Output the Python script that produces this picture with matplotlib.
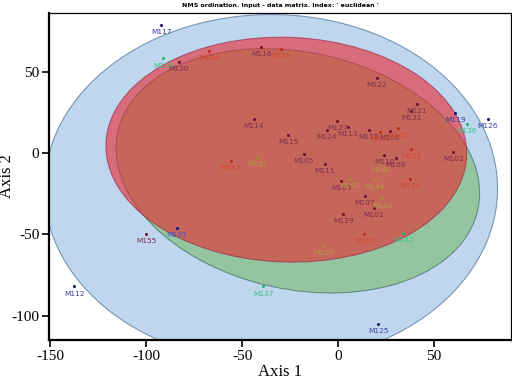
import matplotlib
matplotlib.use("Agg")
import matplotlib.pyplot as plt
from matplotlib.patches import Ellipse

plt.rcParams["axes.unicode_minus"] = False

# sample scores on the two NMS axes
names = ["M117", "M138", "M130", "M104", "M116", "M148", "M122", "M121", "M131",
         "M119", "M136", "M126", "M114", "M127", "M113", "M124", "M118", "M153",
         "M106", "M147", "M115", "M105", "M167", "M135", "M111", "M110", "M108",
         "M140", "M161", "M102", "M109", "M162", "M144", "M159", "M107", "M143",
         "M101", "M129", "M149", "M160", "M142", "M137", "M125", "M155", "M103",
         "M112"]
ax1 = [-92, -91, -83, -67, -40, -30, 20, 41, 38,
       61, 67, 78, -44, -0.5, 5, -6, 16, 22,
       27, 31, -26, -18, -56, -42, -7, 24, 30,
       22, 38, 60, 1.6, 5.7, 19, 37.5, 14, 23,
       18.6, 2.6, 13.5, -7.8, 34, -39, 21, -100, -84,
       -137.5]
ax2 = [78.5, 58, 56, 62.5, 65, 64, 46, 30, 26,
       24.5, 18, 21, 21, 19.6, 16, 14, 14, 13,
       13.5, 15, 11, -0.6, -5, -2.7, -6.7, -1, -3,
       -6, 2.5, 0.6, -17, -16, -16.6, -16, -26.4, -28,
       -34, -37.4, -49.7, -57, -49, -82, -105, -50, -46,
       -82]
group = ["navy", "green", "maroon", "red", "maroon", "red", "maroon", "maroon", "maroon",
         "navy", "green", "navy", "maroon", "maroon", "maroon", "maroon", "maroon", "red",
         "maroon", "red", "maroon", "maroon", "red", "olive", "maroon", "maroon", "maroon",
         "olive", "red", "maroon", "maroon", "olive", "olive", "red", "maroon", "olive",
         "maroon", "maroon", "red", "olive", "green", "green", "navy", "maroon", "navy",
         "navy"]

point_col = {"navy": "#14146e", "green": "#22b864", "maroon": "#6e1236",
             "red": "#c02a14", "olive": "#a8902a"}
label_col = {"navy": "#3c3ca0", "green": "#3cc47e", "maroon": "#7a2e4c",
             "red": "#d2482a", "olive": "#b49c44"}

fig = plt.figure(figsize=(5.12, 3.8), dpi=100)
ax = fig.add_axes([0.096, 0.105, 0.902, 0.861])

# group ellipses
blue = Ellipse((-35, -22), 236, 214, angle=0, facecolor="#bed6ee",
               edgecolor="#7894b4", linewidth=0.8, zorder=1)
green = Ellipse((-21, -11), 194, 144, angle=-19, facecolor="#6eb552",
                alpha=0.5, edgecolor="#1e4a3c", linewidth=0.8, zorder=2)
red = Ellipse((-27, 2), 188, 138, angle=-3, facecolor="#e8252d",
              alpha=0.6, edgecolor="#9a2040", linewidth=0.8, zorder=3)
ax.add_patch(blue)
ax.add_patch(green)
ax.add_patch(red)

for i in range(len(names)):
    g = group[i]
    ax.plot(ax1[i], ax2[i], "o", ms=2.2, color=point_col[g], mec="none", zorder=5)
    lc = label_col[g]
    if names[i] == "M103":
        lc = "#3456d4"
    ax.annotate(names[i], (ax1[i], ax2[i]), xytext=(0, -3), textcoords="offset points",
                ha="center", va="top", fontsize=5.3, color=lc, zorder=6)

ax.set_xlim(-150.5, 90)
ax.set_ylim(-115, 86)
ax.set_xticks([-150, -100, -50, 0, 50])
ax.set_yticks([-100, -50, 0, 50])

for s in ["left", "bottom"]:
    ax.spines[s].set_linewidth(1.6)
for s in ["top", "right"]:
    ax.spines[s].set_linewidth(0.9)
ax.tick_params(direction="out", length=5, width=1.2, labelsize=11, pad=2)
for lab in ax.get_xticklabels() + ax.get_yticklabels():
    lab.set_family("Liberation Serif")

ax.set_xlabel("Axis 1", fontsize=12, family="Liberation Serif", labelpad=1)
ax.set_ylabel("Axis 2", fontsize=12, family="Liberation Serif")
ax.yaxis.set_label_coords(-0.074, 0.5)

fig.text(0.547, 0.985, "NMS ordination. Input - data matrix. Index: ' euclidean '",
         ha="center", va="center", fontsize=4.5, fontweight="bold")

plt.savefig("out.png", dpi=100)
